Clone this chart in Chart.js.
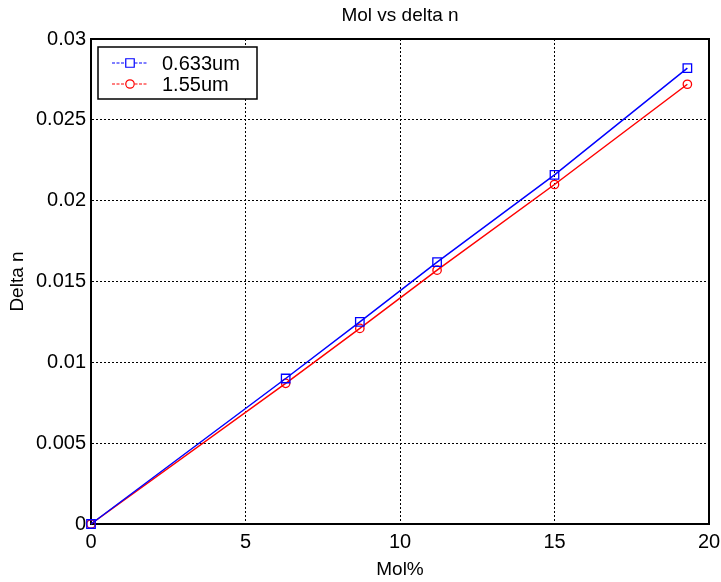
<!DOCTYPE html>
<html>
<head>
<meta charset="utf-8">
<script src="https://cdn.jsdelivr.net/npm/chart.js@4/dist/chart.umd.min.js"></script>
<style>
  body { margin: 0; background: #fff; }
  canvas { display: block; }
</style>
</head>
<body>
<canvas id="grafiks" width="721" height="582"></canvas>
<script>
// dati nolasīti no attēla
const molProc = [0, 6.3, 8.7, 11.2, 15.0, 19.3];
const delta633 = [0, 0.0090, 0.0125, 0.0162, 0.0216, 0.0282];
const delta155 = [0, 0.0087, 0.0121, 0.0157, 0.0210, 0.0272];
const serijuNosaukumi = ['0.633um', '1.55um'];
const xTicks = [0, 5, 10, 15, 20];
const yTicks = [0, 0.005, 0.01, 0.015, 0.02, 0.025, 0.03];

const fonts = "'Liberation Sans', Arial, sans-serif";
const teksts = '#000';

function punkti(yVert) {
    return molProc.map((x, i) => ({ x: x, y: yVert[i] }));
}

// rāmis ap grafiku + leģenda kā MATLAB
const ramisUnLegenda = {
    id: 'ramisUnLegenda',
    beforeDatasetsDraw(chart) {
        const { ctx, chartArea: a } = chart;
        ctx.save();
        ctx.strokeStyle = '#000';
        ctx.lineWidth = 2;
        ctx.strokeRect(a.left, a.top, a.right - a.left, a.bottom - a.top);
        ctx.restore();
    },
    afterDatasetsDraw(chart) {
        const { ctx } = chart;
        const bx = 98, by = 47, bw = 159, bh = 52;
        ctx.save();
        ctx.fillStyle = '#fff';
        ctx.fillRect(bx, by, bw, bh);
        ctx.strokeStyle = '#000';
        ctx.lineWidth = 1.5;
        ctx.strokeRect(bx, by, bw, bh);

        const rindas = [63, 84];
        chart.data.datasets.forEach((ds, i) => {
            const y = rindas[i];
            ctx.strokeStyle = ds.borderColor;
            ctx.lineWidth = 1.2;
            ctx.setLineDash([3, 1.5]);
            ctx.beginPath();
            ctx.moveTo(112, y);
            ctx.lineTo(148, y);
            ctx.stroke();
            ctx.setLineDash([]);
            ctx.fillStyle = '#fff';
            Chart.helpers.drawPoint(ctx, {
                pointStyle: ds.pointStyle,
                radius: ds.pointRadius,
                borderWidth: 1.2,
                rotation: 0
            }, 130, y);
            ctx.fillStyle = teksts;
            ctx.font = '20px ' + fonts;
            ctx.textBaseline = 'middle';
            ctx.textAlign = 'left';
            ctx.fillText(ds.label, 162, y + 1);
        });

        // virsraksts
        ctx.fillStyle = teksts;
        ctx.font = '19px ' + fonts;
        ctx.textAlign = 'center';
        ctx.textBaseline = 'middle';
        ctx.fillText('Mol vs delta n', (chart.chartArea.left + chart.chartArea.right) / 2, 16);
        ctx.restore();
    }
};

new Chart(document.getElementById('grafiks'), {
    type: 'scatter',
    data: {
        datasets: [
            {
                label: serijuNosaukumi[0],
                data: punkti(delta633),
                showLine: true,
                borderColor: '#0000ff',
                backgroundColor: 'rgba(0,0,0,0)',
                borderWidth: 1.5,
                pointStyle: 'rect',
                pointRadius: 6,
                pointBorderWidth: 1.3,
                clip: false
            },
            {
                label: serijuNosaukumi[1],
                data: punkti(delta155),
                showLine: true,
                borderColor: '#ff0000',
                backgroundColor: 'rgba(0,0,0,0)',
                borderWidth: 1.5,
                pointStyle: 'circle',
                pointRadius: 4.2,
                pointBorderWidth: 1.3,
                clip: false
            }
        ]
    },
    options: {
        responsive: false,
        animation: false,
        devicePixelRatio: 1,
        layout: { padding: { top: 39, right: 12, left: 0, bottom: 0 } },
        plugins: {
            legend: { display: false },
            title: { display: false },
            tooltip: { enabled: false }
        },
        scales: {
            x: {
                type: 'linear',
                min: 0,
                max: 20,
                afterBuildTicks: (s) => { s.ticks = xTicks.map(v => ({ value: v })); },
                afterFit: (s) => { s.height = 58; s.paddingLeft = 0; s.paddingRight = 0; },
                ticks: {
                    color: teksts,
                    font: { family: fonts, size: 20 },
                    padding: 6,
                    maxRotation: 0
                },
                grid: { color: '#000', lineWidth: 1, drawTicks: false },
                border: { color: '#000', width: 2, dash: [2, 2] },
                title: {
                    display: true,
                    text: 'Mol%',
                    color: teksts,
                    font: { family: fonts, size: 19 },
                    padding: { bottom: 1 }
                }
            },
            y: {
                min: 0,
                max: 0.03,
                afterBuildTicks: (s) => { s.ticks = yTicks.map(v => ({ value: v })); },
                afterFit: (s) => { s.width = 91; s.paddingTop = 0; s.paddingBottom = 0; },
                ticks: {
                    color: teksts,
                    font: { family: fonts, size: 20 },
                    padding: 5,
                    callback: (v) => String(Number(v.toFixed(3)))
                },
                grid: { color: '#000', lineWidth: 1, drawTicks: false },
                border: { color: '#000', width: 2, dash: [2, 2] },
                title: {
                    display: true,
                    text: 'Delta n',
                    color: teksts,
                    font: { family: fonts, size: 19 },
                    padding: { top: 6 }
                }
            }
        }
    },
    plugins: [ramisUnLegenda]
});
</script>
</body>
</html>
